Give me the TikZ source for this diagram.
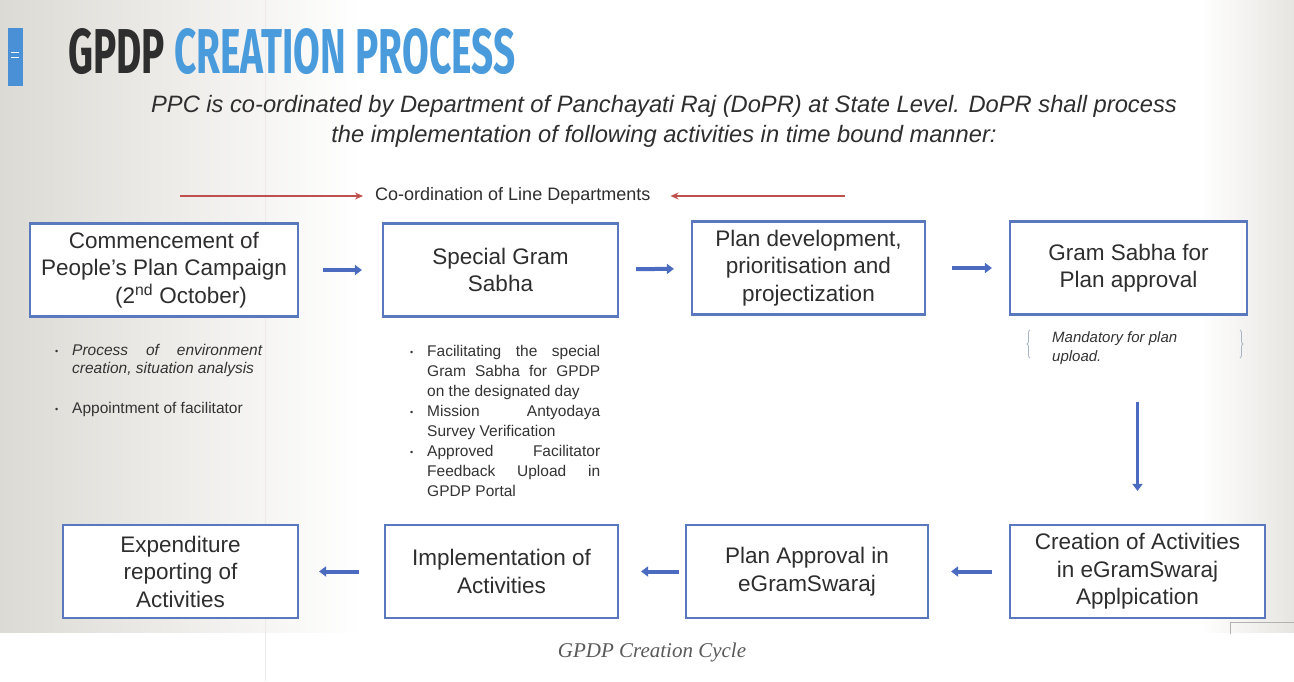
\documentclass[tikz,border=0pt]{standalone}
\usepackage{fontspec}
\usepackage{graphicx}
\setmainfont{Liberation Sans}
\newfontfamily\headfont{Fira Sans}
\newfontfamily\capfont{Liberation Serif}
\usetikzlibrary{arrows.meta,decorations.pathreplacing}

\definecolor{boxblue}{HTML}{5A78BE}
\definecolor{flowblue}{HTML}{4A6BBF}
\definecolor{linered}{HTML}{C0504D}
\definecolor{inkgray}{HTML}{2E2E2E}
\definecolor{notegray}{HTML}{333333}
\definecolor{titleblue}{HTML}{4A9BDC}
\definecolor{titledark}{HTML}{2E2E2E}
\definecolor{tabblue}{HTML}{4A90D6}
\definecolor{slidegray}{HTML}{DCDAD4}
\definecolor{bracegray}{HTML}{A8B4C8}
\definecolor{capgray}{HTML}{5A5A5A}

% bullet paragraph with hanging indent
\newcommand\bulletpara[1]{\par\hangindent=#1\hangafter=1\noindent\makebox[#1][l]{\raisebox{1pt}{\fontsize{9}{9}\selectfont•}}}

\tikzset{
  stepbox/.style={draw=boxblue, line width=2.2pt, fill=white, align=center,
    text=inkgray, inner sep=0pt, minimum height=93pt,
    font=\fontsize{22.5}{27.5}\selectfont},
  flow/.style={draw=flowblue, line width=4pt, -{Triangle[length=7pt,width=10pt]}},
  redline/.style={draw=linered, line width=2.6pt, -{Stealth[length=8pt,width=7pt]}},
  note/.style={anchor=north west, inner sep=0pt, align=justify, text=notegray},
}

\begin{document}
\begin{tikzpicture}[x=1pt,y=-1pt]
\useasboundingbox (0,0) rectangle (1294,681);

% slide background
\fill[white] (0,0) rectangle (1294,681);
\shade[left color=slidegray, right color=white] (0,0) rectangle (360,632);
\shade[left color=white, right color=slidegray!70] (1200,0) rectangle (1294,632);
\draw[black!8, line width=1pt] (265,0) -- (265,681);
\draw[black!30, line width=0.8pt] (1230,634) -- (1230,622) -- (1294,622);

% side tab
\fill[tabblue] (8,28) rectangle (23,86);
\draw[white, line width=1pt] (11,52) -- (19,52) (11,57) -- (19,57);

% heading
\node[anchor=south west, inner sep=0pt] (title) at (68,75)
  {\resizebox{447pt}{45pt}{\headfont\bfseries\color{titledark}GPDP \color{titleblue}CREATION PROCESS}};
\node[font=\fontsize{23.7}{30}\selectfont\itshape, text=inkgray, align=center] (sub) at (664,121)
  {PPC is co-ordinated by Department of Panchayati Raj (DoPR) at State Level. DoPR shall process\\
   the implementation of following activities in time bound manner:};

% line departments
\node[font=\fontsize{18}{20}\selectfont, text=inkgray, anchor=west, inner sep=0pt] (coord) at (375,196)
  {Co-ordination of Line Departments};
\coordinate (cl) at (180,196);
\coordinate (cr) at (845,196);
\draw[redline, shorten >=12pt] (cl) -- (coord.west);
\draw[redline, shorten >=20pt] (cr) -- (coord.east);

% process boxes, top row
\node[stepbox, minimum width=268pt] (b1) at (164,270)
  {Commencement of\\People’s Plan Campaign\\\hspace*{34pt}(2\textsuperscript{nd} October)};
\node[stepbox, minimum width=235pt] (b2) at (500.5,270) {Special Gram\\Sabha};
\node[stepbox, minimum width=233pt] (b3) at (808.5,268) {Plan development,\\prioritisation and\\projectization};
\node[stepbox, minimum width=237pt] (b4) at (1128.5,268) {Gram Sabha for\\Plan approval};

% process boxes, bottom row
\node[stepbox, minimum width=235pt] (b5) at (180.5,571.5) {Expenditure\\reporting of\\Activities};
\node[stepbox, minimum width=233pt] (b6) at (501.5,571.5) {Implementation of\\Activities};
\node[stepbox, minimum width=242pt] (b7) at (807,571.5) {Plan Approval in\\eGramSwaraj};
\node[stepbox, minimum width=255pt] (b8) at (1137.5,571.5) {Creation of Activities\\in eGramSwaraj\\Applpication};

% flow
\draw[flow, shorten <=24pt, shorten >=20pt] (b1) -- (b2);
\draw[flow, shorten <=17pt, shorten >=17pt] (b2) -- (b3);
\draw[flow, shorten <=26pt, shorten >=17pt] (b3) -- (b4);
\draw[flow, line width=3pt, shorten <=86pt, shorten >=33pt] (b4.south -| b8.north) -- (b8.north);
\draw[flow, shorten <=17pt, shorten >=22pt] (b8) -- (b7);
\draw[flow, shorten <=6pt, shorten >=22pt] (b7) -- (b6);
\draw[flow, shorten <=25pt, shorten >=20pt] (b6) -- (b5);

% notes
\node[note, text width=207pt, font=\fontsize{15.5}{18}\selectfont] (n1) at (55,337)
  {\bulletpara{17pt}\textit{Process of environment\linebreak creation, situation analysis}\par
   \vspace{22pt}
   \bulletpara{17pt}Appointment of facilitator\par};
\node[note, text width=190pt, font=\fontsize{15.5}{20}\selectfont] (n2) at (410,336)
  {\bulletpara{17pt}Facilitating the special\linebreak Gram Sabha for GPDP\linebreak on the designated day\par
   \bulletpara{17pt}Mission Antyodaya\linebreak Survey Verification\par
   \bulletpara{17pt}Approved Facilitator\linebreak Feedback Upload in\linebreak GPDP Portal\par};
\node[note, align=left, font=\fontsize{15}{19}\selectfont\itshape] (n4) at (1052,331)
  {Mandatory for plan\\upload.};
\draw[bracegray, line width=0.8pt, decorate, decoration={brace, amplitude=3pt}] (1030,358) -- (1030,330);
\draw[bracegray, line width=0.8pt, decorate, decoration={brace, amplitude=3pt}] (1240,330) -- (1240,358);

% caption
\node[font=\capfont\itshape\fontsize{21}{24}\selectfont, text=capgray] (cap) at (652,652) {GPDP Creation Cycle};
\end{tikzpicture}
\end{document}
